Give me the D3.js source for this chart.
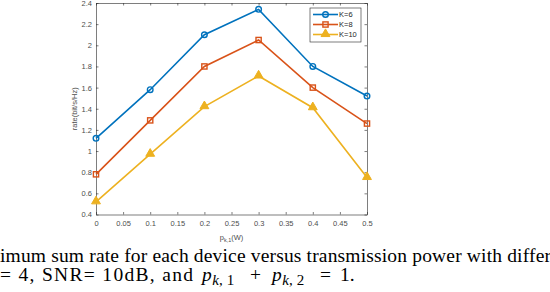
<!DOCTYPE html>
<html>
<head>
<meta charset="utf-8">
<script src="https://cdn.jsdelivr.net/npm/d3@7"></script>
<style>
  body { margin: 0; background: #fff; }
  svg { display: block; }
  .tick text { font-family: "Liberation Sans", Arial, sans-serif; font-size: 7.5px; fill: #4d4d4d; }
  .caption { font-family: "Liberation Serif", "Times New Roman", serif; font-size: 19.5px; fill: #000; }
</style>
</head>
<body>
<div id="grafico"></div>
<script>
// Dados
const potencias = [0, 0.1, 0.2, 0.3, 0.4, 0.5];
const k6 = [1.12, 1.58, 2.10, 2.34, 1.80, 1.52];
const k8 = [0.78, 1.29, 1.80, 2.05, 1.60, 1.26];
const k10 = [0.52, 0.97, 1.42, 1.71, 1.41, 0.75];
const rotulos = ['K=6', 'K=8', 'K=10'];
const xTicks = [0, 0.05, 0.1, 0.15, 0.2, 0.25, 0.3, 0.35, 0.4, 0.45, 0.5];
const yTicks = [0.4, 0.6, 0.8, 1, 1.2, 1.4, 1.6, 1.8, 2, 2.2, 2.4];

const series = [
  { nome: rotulos[0], valores: k6, cor: '#0072BD', marca: 'circle' },
  { nome: rotulos[1], valores: k8, cor: '#D95319', marca: 'square' },
  { nome: rotulos[2], valores: k10, cor: '#EDB120', marca: 'triangle' }
];

const largura = 550;
const altura = 292;
const area = { left: 96, right: 367, top: 3, bottom: 214.5 };

const svg = d3.select('#grafico').append('svg')
  .attr('width', largura)
  .attr('height', altura);

const x = d3.scaleLinear().domain([0, 0.5]).range([area.left, area.right]);
const y = d3.scaleLinear().domain([0.4, 2.4]).range([area.bottom, area.top]);
const corEixo = '#262626';

// Eixos (ticks para dentro, estilo MATLAB)
const fmt = (d) => String(d);
const gx = svg.append('g')
  .attr('transform', `translate(0,${area.bottom})`)
  .call(d3.axisBottom(x).tickValues(xTicks).tickFormat(fmt).tickSizeInner(-2.5).tickSizeOuter(0).tickPadding(6));
const gxTop = svg.append('g')
  .attr('transform', `translate(0,${area.top})`)
  .call(d3.axisTop(x).tickValues(xTicks).tickFormat('').tickSizeInner(-2.5).tickSizeOuter(0));
const gy = svg.append('g')
  .attr('transform', `translate(${area.left},0)`)
  .call(d3.axisLeft(y).tickValues(yTicks).tickFormat(fmt).tickSizeInner(-2.5).tickSizeOuter(0).tickPadding(4));
const gyRight = svg.append('g')
  .attr('transform', `translate(${area.right},0)`)
  .call(d3.axisRight(y).tickValues(yTicks).tickFormat('').tickSizeInner(-2.5).tickSizeOuter(0));

[gx, gxTop, gy, gyRight].forEach((g) => {
  g.select('.domain').attr('stroke', corEixo).attr('stroke-width', 0.6);
  g.selectAll('.tick line').attr('stroke', corEixo).attr('stroke-width', 0.6);
});

// Rótulos dos eixos
svg.append('text')
  .attr('transform', `translate(${area.left - 19},${(area.top + area.bottom) / 2}) rotate(-90)`)
  .attr('text-anchor', 'middle')
  .style('font-family', '"Liberation Sans", Arial, sans-serif')
  .style('font-size', '7.5px')
  .attr('fill', '#4d4d4d')
  .text('rate(bit/s/Hz)');

const xl = svg.append('text')
  .attr('x', (area.left + area.right) / 2)
  .attr('y', 240)
  .attr('text-anchor', 'middle')
  .style('font-family', '"Liberation Sans", Arial, sans-serif')
  .style('font-size', '7.5px')
  .attr('fill', '#4d4d4d');
xl.append('tspan').text('p');
xl.append('tspan').attr('dy', 2).style('font-size', '5.5px').text('k,1');
xl.append('tspan').attr('dy', -2).text('(W)');

// Marcadores
function desenhaMarca(g, tipo, cx, cy, cor) {
  if (tipo === 'circle') {
    g.append('circle').attr('cx', cx).attr('cy', cy).attr('r', 2.8)
      .attr('fill', 'none').attr('stroke', cor).attr('stroke-width', 1.4);
  } else if (tipo === 'square') {
    g.append('rect').attr('x', cx - 2.6).attr('y', cy - 2.6).attr('width', 5.2).attr('height', 5.2)
      .attr('fill', 'none').attr('stroke', cor).attr('stroke-width', 1.4);
  } else {
    g.append('path').attr('d', d3.symbol().type(d3.symbolTriangle).size(34)())
      .attr('transform', `translate(${cx},${cy - 0.5})`)
      .attr('fill', cor).attr('stroke', cor).attr('stroke-width', 1);
  }
}

const linha = d3.line().x((d, i) => x(potencias[i])).y((d) => y(d));

series.forEach((s) => {
  svg.append('path').datum(s.valores)
    .attr('d', linha)
    .attr('fill', 'none')
    .attr('stroke', s.cor)
    .attr('stroke-width', 1.6);
  const g = svg.append('g');
  s.valores.forEach((v, i) => desenhaMarca(g, s.marca, x(potencias[i]), y(v), s.cor));
});

// Legenda
const leg = svg.append('g');
leg.append('rect').attr('x', 310).attr('y', 8).attr('width', 51).attr('height', 34)
  .attr('fill', '#fff').attr('stroke', '#262626').attr('stroke-width', 0.6);
series.forEach((s, i) => {
  const ly = 14.5 + i * 10;
  leg.append('line').attr('x1', 313).attr('x2', 338).attr('y1', ly).attr('y2', ly)
    .attr('stroke', s.cor).attr('stroke-width', 1.6);
  desenhaMarca(leg, s.marca, 325.5, ly, s.cor);
  leg.append('text').attr('x', 339).attr('y', ly + 2.6)
    .style('font-family', '"Liberation Sans", Arial, sans-serif')
    .style('font-size', '7.5px')
    .attr('fill', '#262626')
    .text(s.nome);
});

// Legenda da figura (texto do artigo)
svg.append('text').attr('class', 'caption').attr('x', 0).attr('y', 262)
  .attr('textLength', 551).attr('lengthAdjust', 'spacing')
  .text('imum sum rate for each device versus transmission power with differ');

svg.append('text').attr('class', 'caption').attr('x', 0).attr('y', 281)
  .attr('textLength', 193).attr('lengthAdjust', 'spacing')
  .text('= 4, SNR= 10dB, and');

// p_{k,1} + p_{k,2} = 1.
function termo(x0, indice) {
  const t = svg.append('text').attr('class', 'caption').attr('x', x0).attr('y', 281);
  t.append('tspan').style('font-style', 'italic').text('p');
  t.append('tspan').attr('dy', 4).attr('dx', 0.5).style('font-size', '15px').style('font-style', 'italic').text('k');
  t.append('tspan').style('font-size', '15px').text(',');
  t.append('tspan').attr('dx', 4).style('font-size', '15px').text(indice);
}
termo(202, '1');
svg.append('text').attr('class', 'caption').attr('x', 255.5).attr('y', 281)
  .attr('text-anchor', 'middle').text('+');
termo(272, '2');
svg.append('text').attr('class', 'caption').attr('x', 320).attr('y', 281).text('=');
svg.append('text').attr('class', 'caption').attr('x', 340).attr('y', 281).text('1.');
</script>
</body>
</html>
